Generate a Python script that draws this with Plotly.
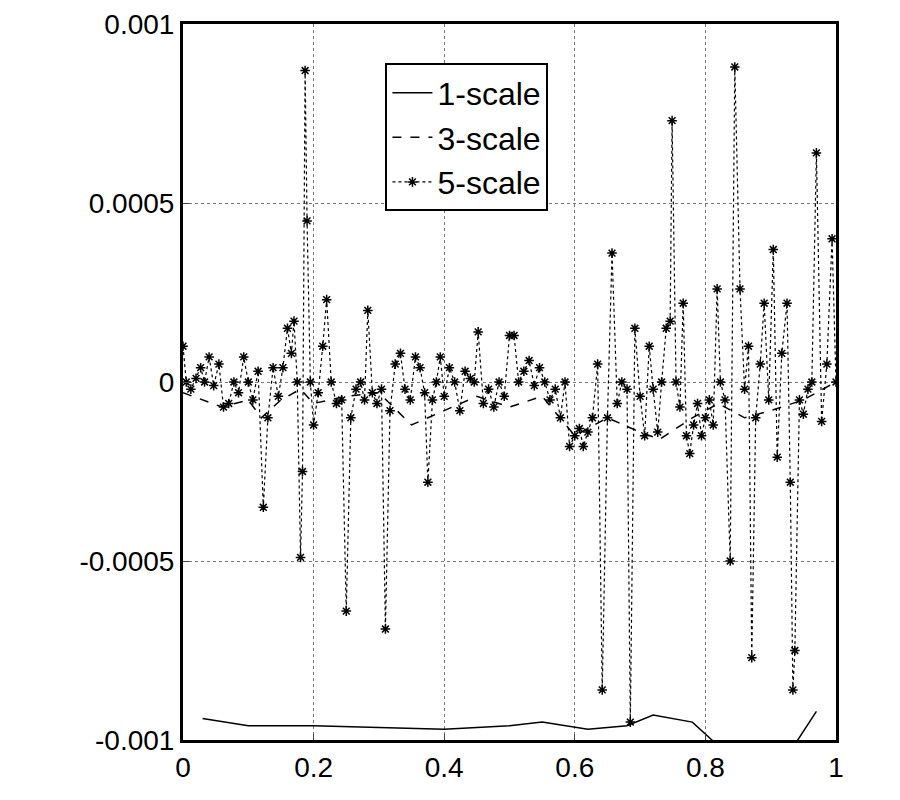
import plotly.graph_objects as go

x1 = [0.03, 0.1, 0.2, 0.3, 0.4, 0.5, 0.55, 0.62, 0.68, 0.72, 0.78, 0.81, 0.84, 0.92, 0.97]
y1 = [-0.00094, -0.00096, -0.00096, -0.000965, -0.00097, -0.00096, -0.00095, -0.00097, -0.00096,
      -0.00093, -0.00095, -0.001, -0.00106, -0.00106, -0.00092]

x3 = [0.0, 0.03, 0.06, 0.1, 0.12, 0.15, 0.18, 0.2, 0.25, 0.3, 0.35, 0.4, 0.45, 0.5, 0.55, 0.6,
      0.65, 0.7, 0.73, 0.78, 0.82, 0.86, 0.9, 0.95, 0.98, 1.0]
y3 = [-0.00003, -0.00005, -0.00007, -0.00005, -0.0001, -0.00005, -0.00002, -0.00006, -0.00004,
      -0.00003, -0.00012, -0.00008, -0.00004, -0.00007, -0.00004, -0.00015, -0.0001, -0.00014,
      -0.00016, -0.0001, -0.00006, -0.0001, -0.00008, -0.00005, -0.00002, 0.0]

x5 = [0.0, 0.005, 0.012, 0.02, 0.027, 0.033, 0.04, 0.047, 0.055, 0.062, 0.07, 0.078, 0.085,
      0.093, 0.1, 0.107, 0.115, 0.123, 0.13, 0.138, 0.146, 0.153, 0.16, 0.166, 0.17, 0.175,
      0.18, 0.183, 0.187, 0.19, 0.195, 0.2, 0.207, 0.214, 0.22, 0.227, 0.235, 0.243, 0.25,
      0.257, 0.265, 0.272, 0.278, 0.283, 0.29, 0.297, 0.304, 0.31, 0.317, 0.325, 0.333, 0.34,
      0.348, 0.356, 0.363, 0.37, 0.375, 0.382, 0.388, 0.394, 0.4, 0.408, 0.416, 0.424, 0.432,
      0.44, 0.446, 0.452, 0.46, 0.468, 0.476, 0.484, 0.492, 0.5, 0.507, 0.514, 0.522, 0.53,
      0.538, 0.546, 0.554, 0.562, 0.57, 0.578, 0.585, 0.592, 0.6, 0.607, 0.613, 0.62, 0.627,
      0.635, 0.642, 0.65, 0.657, 0.665, 0.672, 0.68, 0.685, 0.692, 0.7, 0.707, 0.714, 0.72,
      0.727, 0.733, 0.74, 0.746, 0.749, 0.755, 0.761, 0.766, 0.771, 0.776, 0.782, 0.788, 0.794,
      0.8, 0.806, 0.812, 0.818, 0.823, 0.83, 0.838, 0.845, 0.853, 0.86, 0.866, 0.871, 0.877,
      0.884, 0.89, 0.897, 0.904, 0.91, 0.917, 0.925, 0.93, 0.934, 0.937, 0.944, 0.95, 0.957,
      0.963, 0.97, 0.978, 0.986, 0.994, 1.0]
y5 = [0.0001, 0.0, -0.00002, 0.00001, 0.00004, 0.0, 0.00007, -0.00001, 0.00005, -0.00007,
      -0.00006, 0.0, -0.00003, 0.00007, 0.0, -0.00005, 0.00003, -0.00035, -0.0001, 0.00004,
      -0.00004, 0.00004, 0.00015, 0.00008, 0.00017, 0.0, -0.00049, -0.00025, 0.00087, 0.00045,
      0.0, -0.00012, -0.00003, 0.0001, 0.00023, 0.0, -0.00006, -0.00005, -0.00064, -0.0001,
      -0.00002, 0.0, -0.00005, 0.0002, -0.00003, -0.00006, -0.00002, -0.00069, -0.00008, 0.00005,
      0.00008, -0.00002, -0.00005, 0.00007, 0.00004, -0.00003, -0.00028, -0.00005, 0.0,
      0.00007, -0.00004, 0.00004, 0.0, -0.00008, 0.00003, 0.00001, 0.0, 0.00014, -0.00006,
      -0.00002, -0.00007, 0.0, -0.00004, 0.00013, 0.00013, 0.0, 0.00003, 0.00006, -0.00001,
      0.00004, 0.0, -0.00005, -0.00002, -0.0001, 0.0, -0.00018, -0.00015, -0.00013, -0.00018,
      -0.00014, -0.0001, 0.00005, -0.00086, -0.0001, 0.00036, -0.00006, 0.0, -0.00002, -0.00095,
      0.00015, -0.00004, -0.00015, 0.0001, -0.00002, -0.00014, 0.0, 0.00015, 0.00017, 0.00073,
      0.0, -0.00007, 0.00022, -0.00015, -0.0002, -0.00012, -0.00006, -0.00015, -0.0001,
      -0.00005, -0.00012, 0.00026, 0.0, -0.00005, -0.0005, 0.00088, 0.00026, -0.00002, 0.0001,
      -0.00077, -0.0001, 0.00005, 0.00022, -0.00005, 0.00037, -0.00021, 0.00008, 0.00022,
      -0.00028, -0.00086, -0.00075, -0.00005, -0.00009, -0.00002, 0.0, 0.00064, -0.00011,
      0.00005, 0.0004, 0.0]

fig = go.Figure()
fig.add_trace(go.Scatter(x=x1, y=y1, mode="lines", name="1-scale",
                         line=dict(color="black", width=1.5)))
fig.add_trace(go.Scatter(x=x3, y=y3, mode="lines", name="3-scale",
                         line=dict(color="black", width=1.5, dash="dash")))
fig.add_trace(go.Scatter(x=x5, y=y5, mode="lines+markers", name="5-scale",
                         line=dict(color="black", width=1.2, dash="dot"),
                         marker=dict(symbol="asterisk-open", size=8, color="black",
                                     line=dict(color="black", width=1.5))))

font = dict(family="Liberation Sans, Arial", size=28, color="black")
axis_common = dict(showgrid=True, gridcolor="#777", griddash="dot", gridwidth=1,
                   showline=True, linecolor="black", linewidth=3, mirror=True,
                   zeroline=False, ticks="inside", ticklen=6, automargin=False,
                   ticklabeloverflow="allow")
fig.update_layout(
    width=900, height=800, paper_bgcolor="white", plot_bgcolor="white",
    margin=dict(l=175, r=72, t=16, b=68, autoexpand=False), font=font,
    showlegend=True,
    legend=dict(x=0.31, y=0.945, xanchor="left", yanchor="top", bgcolor="white",
                bordercolor="black", borderwidth=2, font=dict(size=32),
                tracegroupgap=0, itemwidth=40),
    xaxis=dict(range=[0, 1], tickvals=[0, 0.2, 0.4, 0.6, 0.8, 1],
               ticktext=["0", "0.2", "0.4", "0.6", "0.8", "1"], **axis_common),
    yaxis=dict(range=[-0.001, 0.001], tickvals=[-0.001, -0.0005, 0, 0.0005, 0.001],
               ticktext=["-0.001", "-0.0005", "0", "0.0005", "0.001"], **axis_common),
)
fig.write_html("out.html")
